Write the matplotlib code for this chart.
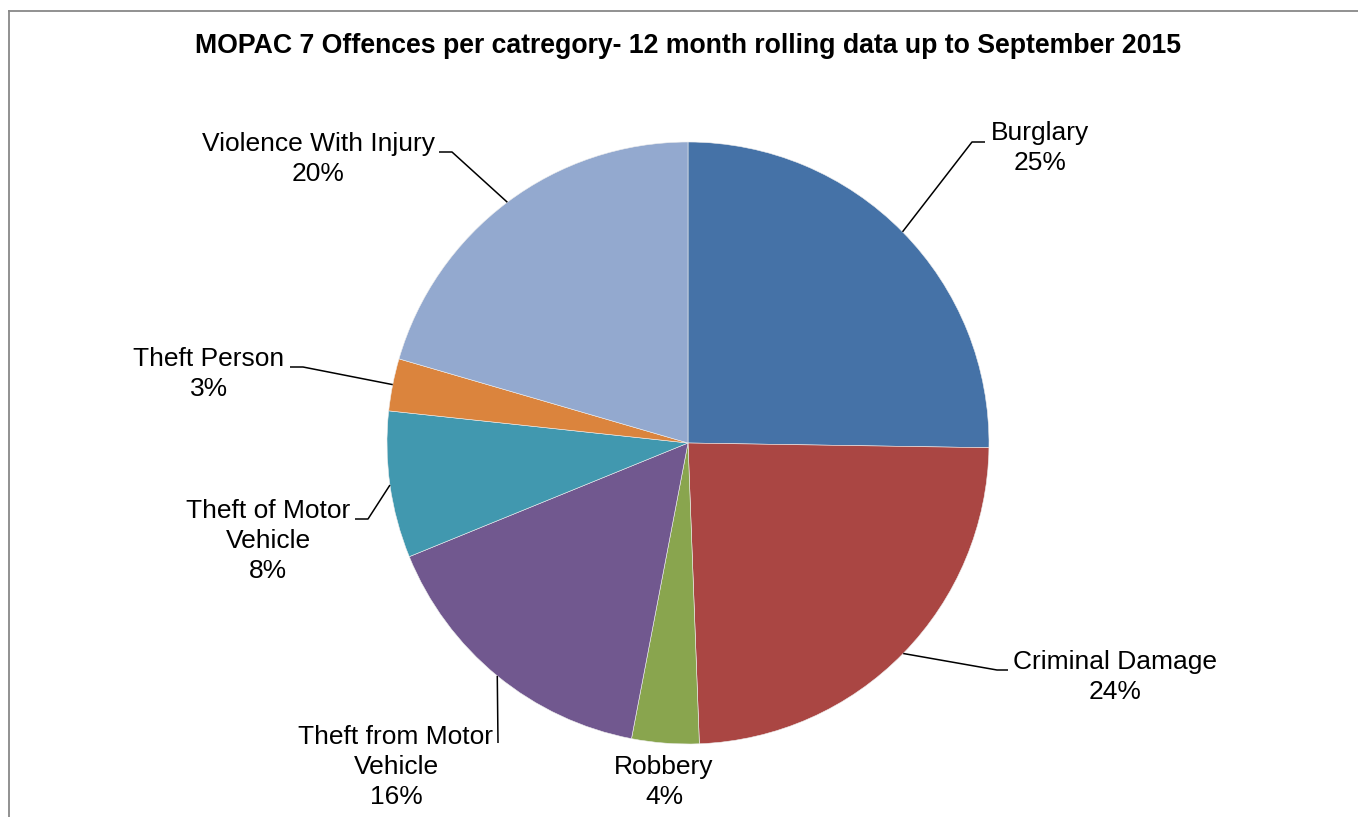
import matplotlib
matplotlib.use("Agg")
import matplotlib.pyplot as plt
import numpy as np
from matplotlib.lines import Line2D

# Offence share per category (percent of 12-month rolling total)
categories = ["Burglary", "Criminal Damage", "Robbery", "Theft from Motor\nVehicle",
              "Theft of Motor\nVehicle", "Theft Person", "Violence With Injury"]
shares = [25.2, 24.1, 3.6, 15.8, 7.85, 2.8, 20.45]
colors = ["#4572A7", "#AA4643", "#89A54E", "#71588F", "#4198AF", "#DB843D", "#93A9CF"]
title = "MOPAC 7 Offences per catregory- 12 month rolling data up to September 2015"

W, H = 1358, 817
plt.rcParams["font.family"] = ["Liberation Sans", "DejaVu Sans"]

fig = plt.figure(figsize=(W / 100, H / 100), dpi=100)
ax = fig.add_axes([0, 0, 1, 1])


def py(y):
    """Convert a top-down pixel row into axis y."""
    return H - y


cx, cy, r = 688, py(443), 301
wedges, _ = ax.pie(shares, colors=colors, startangle=90, counterclock=False,
                   center=(cx, cy), radius=r, frame=True,
                   wedgeprops=dict(edgecolor="#eeeeee", linewidth=0.4))
ax.set_xlim(0, W)
ax.set_ylim(0, H)
ax.set_aspect("equal")
ax.axis("off")

total = sum(shares)
# label block centre, leader-line elbow and end (None = no leader line)
layout = [
    ((1040, 148), [(972, 142), (985, 142)]),
    ((1115, 677), [(997, 670), (1008, 670)]),
    ((664, 782), None),
    ((396, 767), [(498, 743)]),
    ((268, 541), [(368, 519), (355, 519)]),
    ((209, 374), [(303, 367), (290, 367)]),
    ((318, 159), [(452, 152), (439, 152)]),
]

for w, cat, val, (pos, leader) in zip(wedges, categories, shares, layout):
    pct = round(val / total * 100)
    ax.text(pos[0], py(pos[1]), f"{cat}\n{pct}%", ha="center", va="center",
            fontsize=19, linespacing=1.3, color="black")
    if leader:
        mid = np.deg2rad((w.theta1 + w.theta2) / 2)
        xs = [cx + r * np.cos(mid)] + [p[0] for p in leader]
        ys = [cy + r * np.sin(mid)] + [py(p[1]) for p in leader]
        ax.plot(xs, ys, color="black", lw=1.1, solid_capstyle="butt")

fig.text(688 / W, 1 - 46 / H, title, ha="center", va="center",
         fontsize=19.2, fontweight="bold")

# chart area border (left and top edges)
fig.add_artist(Line2D([8.5 / W, 8.5 / W], [0, 1 - 10.5 / H], transform=fig.transFigure,
                      color="#888888", lw=1.3))
fig.add_artist(Line2D([8.5 / W, 1], [1 - 10.5 / H, 1 - 10.5 / H], transform=fig.transFigure,
                      color="#888888", lw=1.3))

fig.savefig("out.png", dpi=100, facecolor="white")
